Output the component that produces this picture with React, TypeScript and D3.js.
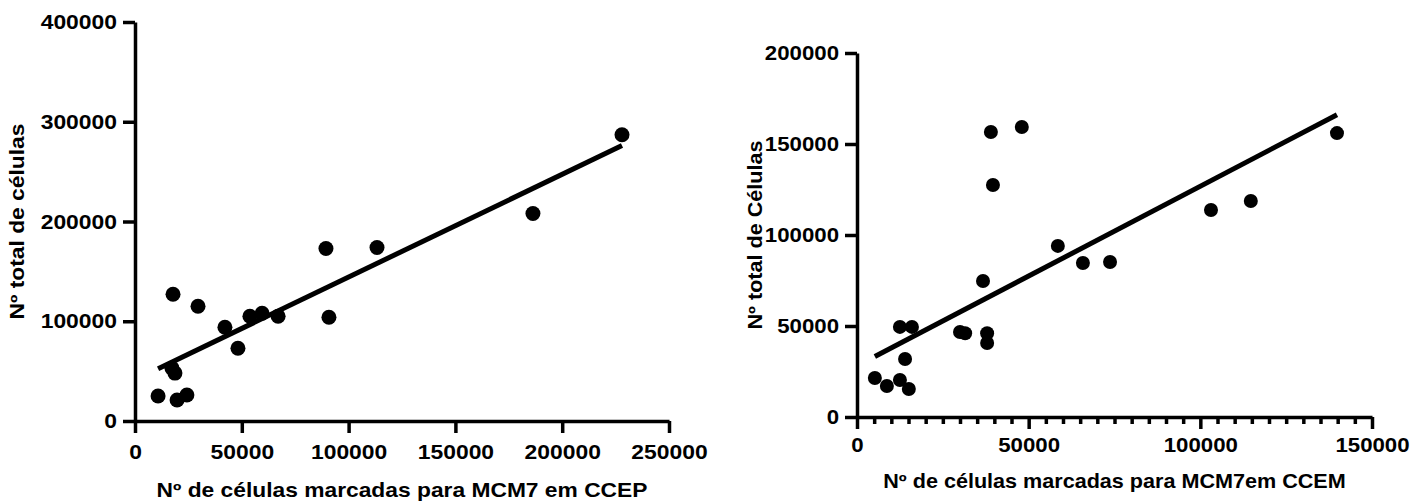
import React, { useEffect, useRef } from "react";
import * as d3 from "d3";

// left panel: CCEP
const ccepMarked = [10800, 17300, 18700, 19700, 24300, 17800, 29500, 42100, 48200, 53800, 59500, 67000, 89400, 90800, 113300, 186300, 228000];
const ccepTotal = [25000, 53000, 48000, 21000, 26000, 127000, 115000, 94000, 73000, 105000, 108000, 105000, 173000, 104000, 174000, 208000, 287000];
const ccepXTicks = [0, 50000, 100000, 150000, 200000, 250000];
const ccepYTicks = [0, 100000, 200000, 300000, 400000];
const ccepFit = [1.03, 41300]; // slope, intercept

// right panel: CCEM
const ccemMarked = [5200, 8700, 12500, 15100, 14000, 12500, 16000, 30000, 31500, 37900, 37900, 36700, 39600, 39000, 48000, 58500, 65800, 73700, 103100, 114700, 139800];
const ccemTotal = [21400, 17000, 20300, 15400, 31900, 49500, 49500, 46700, 46000, 46000, 40700, 74700, 127500, 156600, 159300, 94000, 84600, 85200, 113700, 118700, 156000];
const ccemXTicks = [0, 50000, 100000, 150000];
const ccemXMinor = d3.range(5000, 150000, 5000).filter((v) => v % 50000 !== 0);
const ccemYTicks = [0, 50000, 100000, 150000, 200000];
const ccemFit = [0.987, 28100];

const FONT = '"Liberation Sans", Arial, Helvetica, sans-serif';

type Panel = {
  xs: number[];
  ys: number[];
  xTicks: number[];
  yTicks: number[];
  xMinor?: number[];
  fit: number[];
  xRange: [number, number];
  yRange: [number, number];
  r: number;
  xPad: number;
  xLabel: string;
  yLabel: string;
  xLabelY: number;
  yLabelX: number;
  tickStretch: number;
  titleStretch: number;
};

function styleAxis(g: any, sx: number, vertical: boolean) {
  g.select(".domain").attr("stroke", "#000").attr("stroke-width", 3.5);
  g.selectAll(".tick line").attr("stroke", "#000").attr("stroke-width", 3.5);
  g.attr("font-family", FONT).attr("font-size", 21).attr("font-weight", "bold");
  const txt = g.selectAll(".tick text").attr("fill", "#000").attr("transform", `scale(${sx},1)`);
  // keep the anchor point where d3 put it
  if (vertical) txt.attr("x", function (this: any) { return +d3.select(this).attr("x") / sx; });
}

function drawPanel(svg: any, p: Panel) {
  const x = d3.scaleLinear().domain([p.xTicks[0], p.xTicks[p.xTicks.length - 1]]).range(p.xRange);
  const y = d3.scaleLinear().domain([p.yTicks[0], p.yTicks[p.yTicks.length - 1]]).range(p.yRange);

  const g = svg.append("g");

  // minor ticks first
  if (p.xMinor) {
    const minor = g.append("g").attr("transform", `translate(0,${p.yRange[0]})`)
      .call(d3.axisBottom(x).tickValues(p.xMinor).tickSize(7).tickFormat(() => ""));
    minor.select(".domain").remove();
    minor.selectAll(".tick line").attr("stroke", "#000").attr("stroke-width", 3.5);
  }

  const xAxis = g.append("g").attr("transform", `translate(0,${p.yRange[0]})`)
    .call(d3.axisBottom(x).tickValues(p.xTicks).tickSize(12).tickSizeOuter(0).tickPadding(p.xPad).tickFormat(d3.format("d")));
  styleAxis(xAxis, p.tickStretch, false);

  const yAxis = g.append("g").attr("transform", `translate(${p.xRange[0]},0)`)
    .call(d3.axisLeft(y).tickValues(p.yTicks).tickSize(12).tickSizeOuter(0).tickPadding(6).tickFormat(d3.format("d")));
  styleAxis(yAxis, p.tickStretch, true);

  // points
  g.append("g").selectAll("circle")
    .data(p.xs.map((v, i) => [v, p.ys[i]]))
    .join("circle")
    .attr("cx", (d: number[]) => x(d[0]))
    .attr("cy", (d: number[]) => y(d[1]))
    .attr("r", p.r)
    .attr("fill", "#000");

  // fit line over the data range
  const ext = d3.extent(p.xs) as [number, number];
  const line = d3.line<number>().x((v) => x(v)).y((v) => y(p.fit[0] * v + p.fit[1]));
  g.append("path")
    .attr("d", line(ext))
    .attr("stroke", "#000")
    .attr("stroke-width", 5)
    .attr("fill", "none");

  // titles
  g.append("text")
    .attr("transform", `translate(${(p.xRange[0] + p.xRange[1]) / 2},${p.xLabelY}) scale(${p.titleStretch},1)`)
    .attr("text-anchor", "middle")
    .attr("font-family", FONT).attr("font-size", 20).attr("font-weight", "bold")
    .text(p.xLabel);

  const cy = (p.yRange[0] + p.yRange[1]) / 2;
  g.append("text")
    .attr("transform", `translate(${p.yLabelX},${cy}) rotate(-90) scale(${p.titleStretch},1)`)
    .attr("text-anchor", "middle")
    .attr("font-family", FONT).attr("font-size", 20).attr("font-weight", "bold")
    .text(p.yLabel);
}

export default function App() {
  const ref = useRef<SVGSVGElement>(null);

  useEffect(() => {
    const svg = d3.select(ref.current);
    svg.selectAll("*").remove();
    svg.append("rect").attr("width", 1424).attr("height", 502).attr("fill", "#fff");

    drawPanel(svg, {
      xs: ccepMarked, ys: ccepTotal,
      xTicks: ccepXTicks, yTicks: ccepYTicks,
      fit: ccepFit,
      xRange: [135, 669], yRange: [421, 22],
      r: 7.5, xPad: 11,
      xLabel: "Nº de células marcadas para MCM7 em CCEP",
      yLabel: "Nº total de células",
      xLabelY: 497, yLabelX: 24,
      tickStretch: 1.09, titleStretch: 1.14,
    });

    drawPanel(svg, {
      xs: ccemMarked, ys: ccemTotal,
      xTicks: ccemXTicks, yTicks: ccemYTicks, xMinor: ccemXMinor,
      fit: ccemFit,
      xRange: [857, 1372], yRange: [417, 53],
      r: 7, xPad: 8,
      xLabel: "Nº de células marcadas para MCM7em CCEM",
      yLabel: "Nº total de Células",
      xLabelY: 488, yLabelX: 762,
      tickStretch: 1.06, titleStretch: 1.08,
    });
  }, []);

  return (
    <svg ref={ref} width={1424} height={502}
      style={{ position: "absolute", left: 0, top: 0, display: "block" }} />
  );
}
